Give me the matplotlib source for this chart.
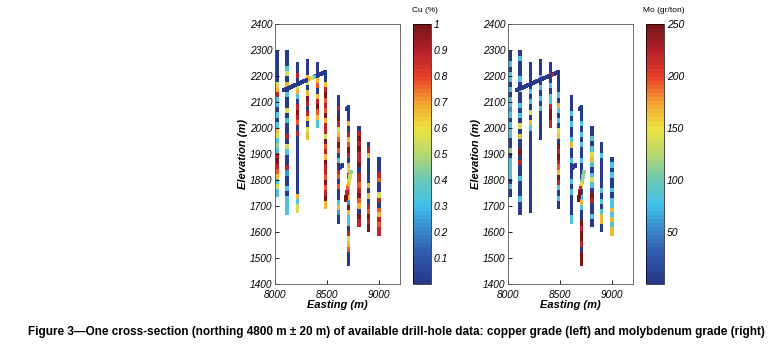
import numpy as np
import matplotlib
matplotlib.use('Agg')
import matplotlib.pyplot as plt
from matplotlib import font_manager
from matplotlib.colors import LinearSegmentedColormap

# drill holes: (x_top, z_top, x_bottom, z_bottom), listed collar first
holes = [
    (8020, 2290, 8020, 1740),
    (8116, 2292, 8116, 1672),
    (8214, 2247, 8214, 1680),
    (8311, 2257, 8311, 1960),
    (8409, 2247, 8409, 2005),
    (8487, 2211, 8487, 1695),
    (8607, 2119, 8607, 1637),
    (8708, 2080, 8708, 1477),
    (8808, 2003, 8808, 1625),
    (8899, 1939, 8899, 1605),
    (9000, 1881, 9000, 1593),
    (8480, 2215, 8080, 2145),
    (8650, 1857, 8610, 1845),
    (8730, 1833, 8676, 1723),
    (8708, 2080, 8688, 2072),
]

# grade codes read down each hole (0 = lowest, 9 = highest of the colour scale)
cu_codes = [
    "0000005683303036534389876353",
    "0003506030050300805300820030333",
    "0080563089870800000000000635",
    "000650698086056",
    "000670689763",
    "00689787968859786988797896",
    "008098567970398707003620",
    "000608679806589536296330856700",
    "0898988908878976098",
    "08600000606087989",
    "000870058076878",
    "0000356000000000",
    "000",
    "4556789",
    "00",
]
mo_codes = [
    "0030330303323033300403333030",
    "0300030500303050600908003000300",
    "0000030305063000000000000000",
    "000303030300000",
    "008030338998",
    "00003063030560989876983030",
    "000303003600300030300003",
    "000303030030003003630098998099",
    "0030356303530980030",
    "00300000030303660",
    "030300303363636",
    "0080000000000000",
    "000",
    "4445899",
    "00",
]

cu_ticks = [0.1, 0.2, 0.3, 0.4, 0.5, 0.6, 0.7, 0.8, 0.9, 1]
cu_ticklabels = ['0.1', '0.2', '0.3', '0.4', '0.5', '0.6', '0.7', '0.8', '0.9', '1']
mo_ticks = [50, 100, 150, 200, 250]

names = [f.name for f in font_manager.fontManager.ttflist]
cap_font = 'Liberation Sans Narrow' if 'Liberation Sans Narrow' in names else 'Liberation Sans'
plt.rcParams['font.family'] = ['Liberation Sans', 'DejaVu Sans']

# muted jet, as in the scanned figure
cmap = LinearSegmentedColormap.from_list(
    'softjet', ['#26398a', '#2f56aa', '#3a86cc', '#40c0ec', '#6cc8b4',
                '#b8d870', '#ece23e', '#f4a232', '#e8402c', '#b4202a', '#7a1618'], N=64)


def samples(codes, vmax):
    xs, zs, gs = [], [], []
    for (x0, z0, x1, z1), code in zip(holes, codes):
        length = np.hypot(x1 - x0, z1 - z0)
        n = max(int(length / 2), 2)
        t = np.linspace(0, 1, n)
        idx = np.minimum((t * len(code)).astype(int), len(code) - 1)
        g = np.array([int(code[i]) for i in idx]) / 9.0 * vmax
        xs.append(x0 + (x1 - x0) * t)
        zs.append(z0 + (z1 - z0) * t)
        gs.append(g)
    return np.concatenate(xs), np.concatenate(zs), np.concatenate(gs)


fig = plt.figure(figsize=(7.76, 3.58), dpi=100)

panels = [
    (0.3544, 0.5322, cu_codes, 1.0, cu_ticks, cu_ticklabels, 'Cu (%)', 0.548),
    (0.6546, 0.8325, mo_codes, 250, mo_ticks, [str(v) for v in mo_ticks], 'Mo (gr/ton)', 0.855),
]

for ax_left, cb_left, codes, vmax, ticks, tlabels, cblabel, lab_x in panels:
    ax = fig.add_axes([ax_left, 0.2067, 0.1611, 0.7263])
    x, z, g = samples(codes, vmax)
    sc = ax.scatter(x, z, c=g, cmap=cmap, vmin=0, vmax=vmax, marker='s', s=6,
                    linewidths=0)
    ax.set_xlim(8000, 9200)
    ax.set_ylim(1400, 2400)
    ax.set_xticks([8000, 8500, 9000])
    ax.set_yticks(range(1400, 2401, 100))
    ax.tick_params(direction='in', length=3, width=0.6, labelsize=7.3, pad=2)
    ax.tick_params(axis='x', pad=4)
    for lab in ax.get_xticklabels() + ax.get_yticklabels():
        lab.set_fontstyle('italic')
    for sp in ax.spines.values():
        sp.set_linewidth(0.6)
        sp.set_color('#555555')
    ax.set_xlabel('Easting (m)', fontsize=8, fontweight='bold', fontstyle='italic', labelpad=0)
    ax.set_ylabel('Elevation (m)', fontsize=8, fontweight='bold', fontstyle='italic', labelpad=1)

    cax = fig.add_axes([cb_left, 0.2067, 0.0232, 0.7263])
    cb = fig.colorbar(sc, cax=cax, ticks=ticks)
    cb.ax.set_yticklabels(tlabels)
    cb.ax.tick_params(length=0, labelsize=7.5, pad=2)
    for lab in cb.ax.get_yticklabels():
        lab.set_fontstyle('italic')
    cb.outline.set_linewidth(0.5)
    fig.text(lab_x, 0.96, cblabel, fontsize=6, ha='center', va='bottom')

fig.text(0.036, 0.073, 'Figure 3\u2014One cross-section (northing 4800 m \u00b1 20 m) of available drill-hole data: '
         'copper grade (left) and molybdenum grade (right)',
         fontsize=8.5, fontweight='bold', family=[cap_font, 'DejaVu Sans'], ha='left', va='center')

fig.savefig('out.png', dpi=100)
